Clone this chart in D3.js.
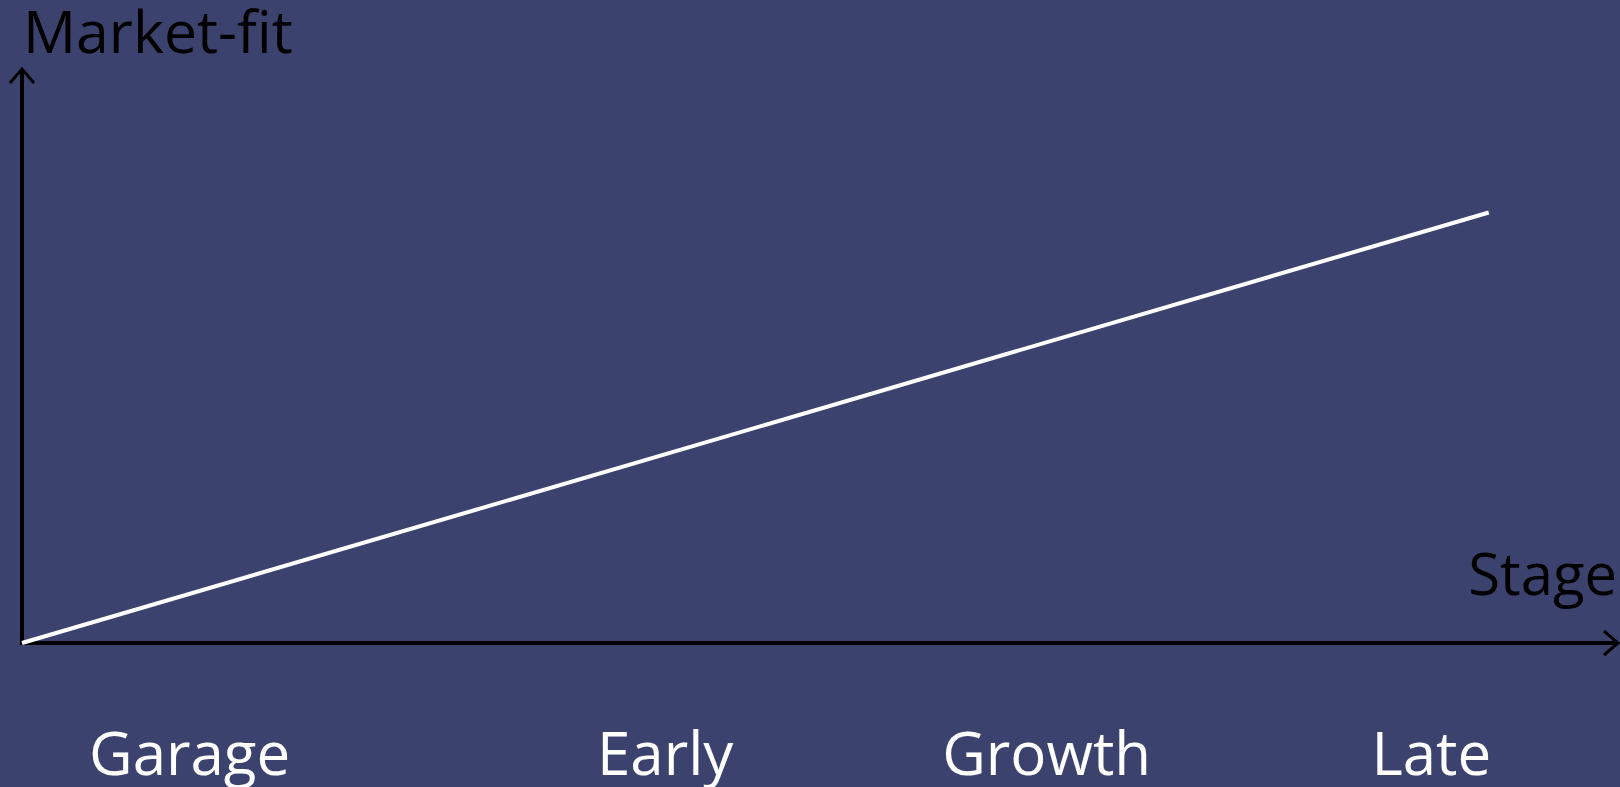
<!DOCTYPE html>
<html>
<head>
<meta charset="utf-8">
<script src="https://cdn.jsdelivr.net/npm/d3@7"></script>
<style>
  html, body { margin: 0; padding: 0; background: #3c426e; overflow: hidden; }
  svg { display: block; font-family: "Open Sans", sans-serif; }
</style>
</head>
<body>
<script>
const width = 1620;
const height = 787;

// stages along the x axis (value = position on a 0-100 stage scale)
const stages = ["Garage", "Early", "Growth", "Late"];
const stageAt = [10.5, 40.3, 64.2, 88.3];

// market-fit line
const lineX = [0, 91.9];
const lineY = [0, 75];

const axisTitleX = "Stage";
const axisTitleY = "Market-fit";

const svg = d3.select("body").append("svg")
    .attr("width", width)
    .attr("height", height);

const x = d3.scaleLinear().domain([0, 100]).range([22, 1618]);
const y = d3.scaleLinear().domain([0, 100]).range([643, 69]);

// axes with open arrow heads
const axes = svg.append("g")
    .attr("stroke", "#000")
    .attr("stroke-width", 4)
    .attr("fill", "none");

axes.append("line")
    .attr("x1", x(0) - 2).attr("y1", y(0))
    .attr("x2", x(100)).attr("y2", y(0));

axes.append("line")
    .attr("x1", x(0)).attr("y1", y(0))
    .attr("x2", x(0)).attr("y2", y(100));

axes.append("path")
    .attr("stroke-width", 3)
    .attr("d", `M${x(100) - 14},${y(0) - 12}L${x(100)},${y(0)}L${x(100) - 14},${y(0) + 12}`);

axes.append("path")
    .attr("stroke-width", 3)
    .attr("d", `M${x(0) - 12},${y(100) + 14}L${x(0)},${y(100)}L${x(0) + 12},${y(100) + 14}`);

// the line
const pts = lineX.map((d, i) => [d, lineY[i]]);
svg.append("path")
    .datum(pts)
    .attr("fill", "none")
    .attr("stroke", "#fff")
    .attr("stroke-width", 4)
    .attr("d", d3.line().x(d => x(d[0])).y(d => y(d[1])));

// axis titles
svg.append("text")
    .attr("x", 23)
    .attr("y", 53)
    .attr("font-size", 59)
    .attr("fill", "#000")
    .text(axisTitleY);

svg.append("text")
    .attr("x", 1617)
    .attr("y", 595)
    .attr("text-anchor", "end")
    .attr("font-size", 58)
    .attr("fill", "#000")
    .text(axisTitleX);

// stage labels
svg.append("g")
    .selectAll("text")
    .data(stages)
    .join("text")
    .attr("x", (d, i) => x(stageAt[i]))
    .attr("y", 775)
    .attr("text-anchor", "middle")
    .attr("font-size", 60)
    .attr("fill", "#fff")
    .text(d => d);
</script>
</body>
</html>
